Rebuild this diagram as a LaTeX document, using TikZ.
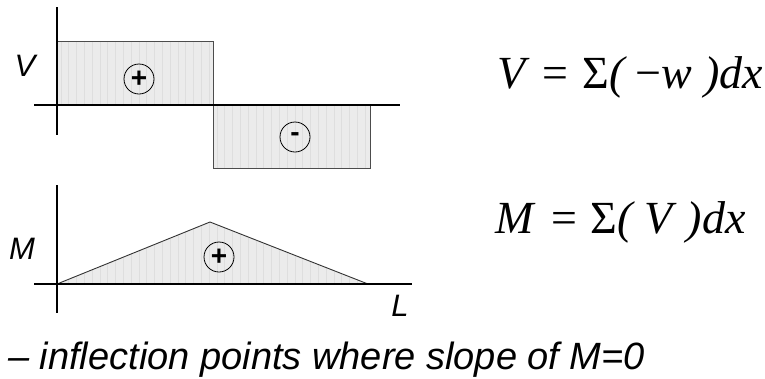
\documentclass[tikz,border=0pt]{standalone}
\usepackage{fontspec}
\setmainfont{Liberation Sans}
\newfontfamily\eqfont{Liberation Serif}
\usetikzlibrary{positioning}

\tikzset{
  axis/.style={line width=1.3pt},
  yaxis/.style={line width=2.2pt},
  area/.style={fill=black!8, draw=black!70, line width=0.9pt},
  sign/.style={draw, circle, line width=0.8pt, minimum size=30pt, inner sep=0pt, font=\fontsize{28}{28}\selectfont\bfseries},
  lbl/.style={font=\fontsize{31}{31}\selectfont\itshape, inner sep=0pt},
  eq/.style={font=\fontsize{46}{46}\eqfont\itshape, inner sep=0pt, anchor=base west}
}

\begin{document}
\begin{tikzpicture}[x=1pt, y=-1pt]
\useasboundingbox (0,0) rectangle (765,378);

% Shear diagram
\coordinate (vo) at (57,105);
\path[area] (57,105) -- (57,41) -- (213,41) -- (213,105) -- cycle;
\path[area] (213,105) -- (213,168) -- (370,168) -- (370,105) -- cycle;
\begin{scope}
\clip (57,41) rectangle (213,105) (213,105) rectangle (370,168);
\foreach \x in {61,68.8,...,370} \draw[black!13, line width=0.9pt] (\x,41) -- (\x,168);
\end{scope}
\draw[black!70, line width=0.9pt] (57,41) -- (213,41) -- (213,168) -- (370,168) -- (370,105);
\draw[axis] (34,105) -- (400,105);
\draw[yaxis] (57,7) -- (57,135);
\node[lbl] (vl) at (25,66) {V};
\node[sign] (vp) at (139,79) {+};
\node[sign] (vm) at (295,137) {-};

% Moment diagram
\coordinate (mo) at (57,284);
\coordinate (mt) at (210,222);
\coordinate (me) at (368,284);
\path[area, draw=none] (mo) -- (mt) -- (me) -- cycle;
\begin{scope}
\clip (mo) -- (mt) -- (me) -- cycle;
\foreach \x in {61,68.8,...,370} \draw[black!13, line width=0.9pt] (\x,220) -- (\x,284);
\end{scope}
\draw[black!80, line width=0.9pt] (mo) -- (mt) -- (me);
\draw[axis] (34,284) -- (412,284);
\draw[yaxis] (57,185) -- (57,313);
\node[lbl] (ml) at (22,249) {M};
\node[lbl] (ll) at (400,306) {L};
\node[sign] (mp) at (219,257) {+};

% Equations
\node[eq] (veq) at (497,88) {V\hspace{3pt} = {\upshape Σ}( {\upshape −}w )dx};
\node[eq] (meq) at (495,233) {M\hspace{3pt} = {\upshape Σ}( V\hspace{3pt} )dx};

% Note
\node[font=\fontsize{38}{38}\selectfont\itshape, inner sep=0pt, anchor=base west] (note) at (8,369) {– inflection points where slope of M=0};
\end{tikzpicture}
\end{document}
